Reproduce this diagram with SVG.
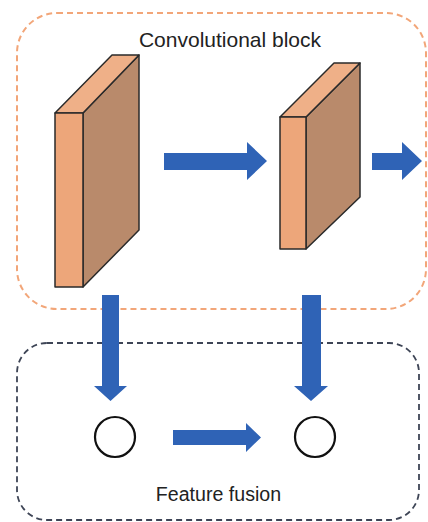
<svg xmlns="http://www.w3.org/2000/svg" width="428" height="522" viewBox="0 0 428 522">
  <style>
    .label { font-family: "Liberation Sans", Arial, sans-serif; fill: #222; text-anchor: middle; }
    .front { fill: #EDA67A; stroke: #2a2a2a; stroke-width: 1.5; stroke-linejoin: round; }
    .top { fill: #EFB088; stroke: #2a2a2a; stroke-width: 1.5; stroke-linejoin: round; }
    .side { fill: #B98A6B; stroke: #2a2a2a; stroke-width: 1.5; stroke-linejoin: round; }
    .arrow { fill: #2F63B6; }
    .node { fill: none; stroke: #111; stroke-width: 2.2; }
  </style>

  <!-- containers -->
  <g id="convolutional-block">
    <rect x="17" y="13" width="409" height="296" rx="40" ry="40" fill="none" stroke="#F2A679" stroke-width="2" stroke-dasharray="6 4"/>
    <text class="label" x="230" y="47" font-size="21">Convolutional block</text>
  </g>
  <g id="feature-fusion">
    <rect x="17" y="343" width="402" height="177" rx="30" ry="30" fill="none" stroke="#3E4556" stroke-width="1.8" stroke-dasharray="6 4"/>
    <text class="label" x="218.5" y="501" font-size="19.6">Feature fusion</text>
  </g>

  <!-- feature maps -->
  <g id="layer-1">
    <polygon class="side" points="83,113 139,55 139,230 83,287"/>
    <polygon class="top" points="55,113 112,55 139,55 83,113"/>
    <rect class="front" x="55" y="113" width="28" height="174"/>
  </g>
  <g id="layer-2">
    <polygon class="side" points="306,117 360,63 360,197 306,249"/>
    <polygon class="top" points="280,117 334,63 360,63 306,117"/>
    <rect class="front" x="280" y="117" width="26" height="132"/>
  </g>

  <!-- fusion nodes -->
  <g id="fusion-1">
    <circle class="node" cx="115" cy="437" r="20"/>
  </g>
  <g id="fusion-2">
    <circle class="node" cx="315" cy="437" r="20"/>
  </g>

  <!-- connectors -->
  <g id="connectors">
    <path class="arrow" d="M164,153 H247 V142 L267,161 L247,180 V170 H164 Z"/>
    <path class="arrow" d="M372,153 H402 V142 L422,161 L402,180 V170 H372 Z"/>
    <path class="arrow" d="M102,295 H119 V386 H127 L110.5,401 L94,386 H102 Z"/>
    <path class="arrow" d="M302,295 H321 V386 H328 L311,401 L294,386 H302 Z"/>
    <path class="arrow" d="M173,430 H246 V423 L261,437.5 L246,452 V445 H173 Z"/>
  </g>
</svg>
